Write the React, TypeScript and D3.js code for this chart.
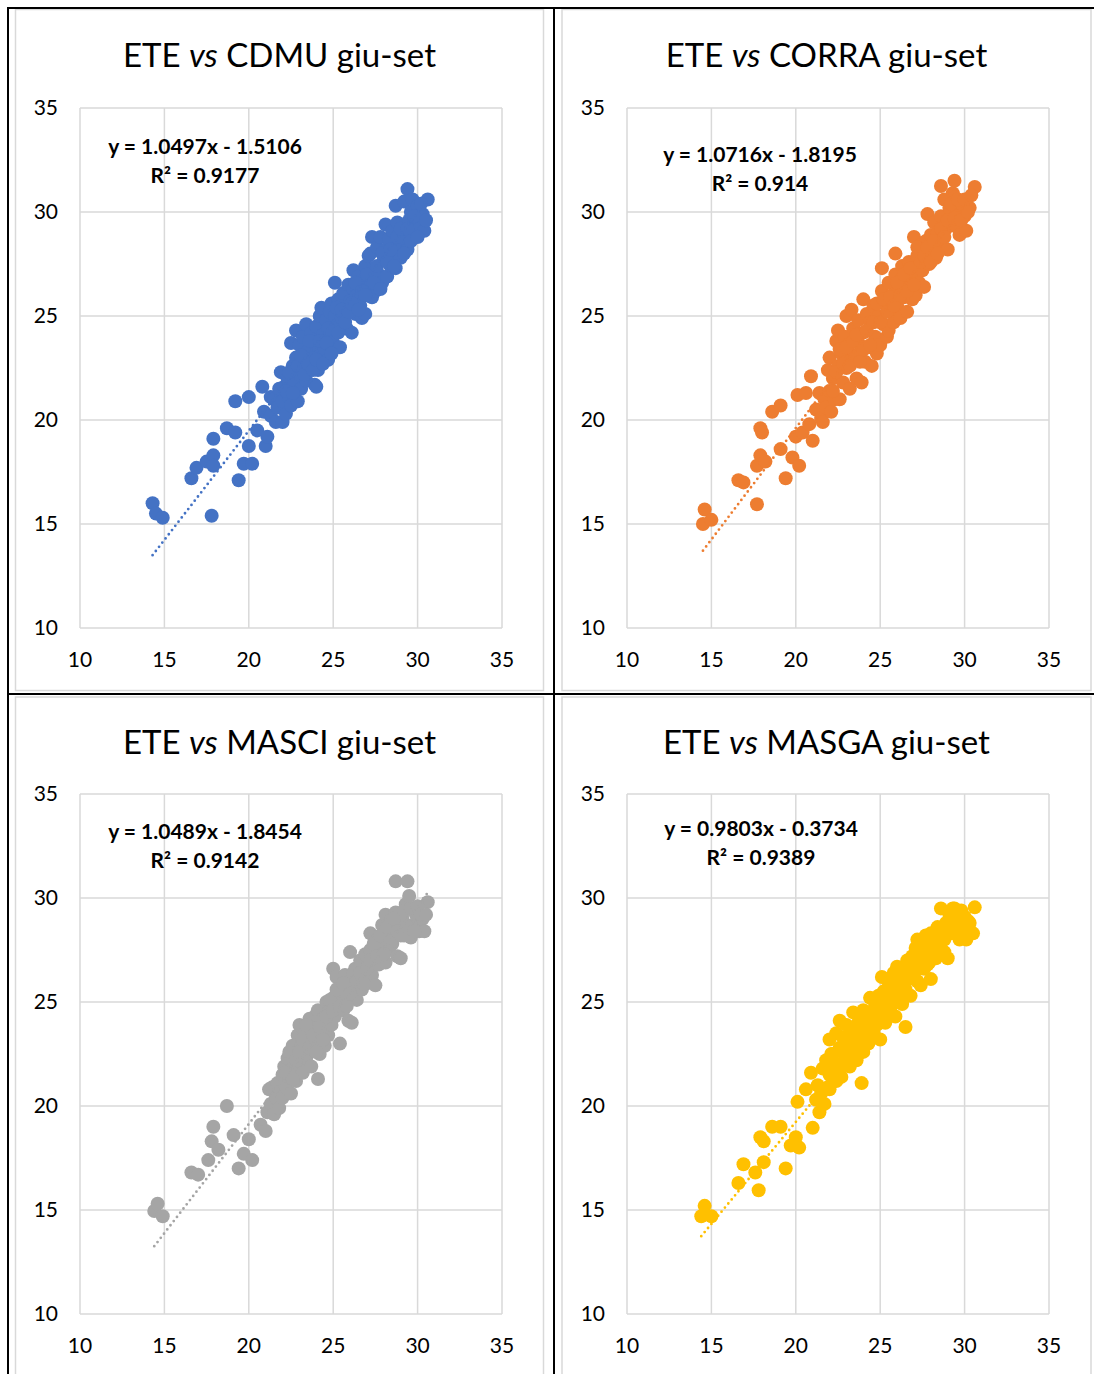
import React from "react";
import * as d3 from "d3";

// ETE (x) against each model (y), giu-set
const axisTicks = [10, 15, 20, 25, 30, 35];

const titleModels = ["CDMU", "CORRA", "MASCI", "MASGA"];
const seriesColors = ["#4472C4", "#ED7D31", "#A5A5A5", "#FFC000"];
const trendSlopes = [1.0497, 1.0716, 1.0489, 0.9803];
const trendIntercepts = [-1.5106, -1.8195, -1.8454, -0.3734];
const rSquared = ["0.9177", "0.914", "0.9142", "0.9389"];

const cdmuPoints: [number, number][] = [
  [14.3, 16.0], [14.5, 15.5], [14.9, 15.3], [16.6, 17.2], [16.9, 17.7], [17.8, 15.4],
  [17.5, 18.0], [17.9, 18.3], [17.9, 19.1], [17.9, 17.8], [18.7, 19.6], [19.2, 19.4],
  [19.2, 20.9], [19.4, 17.1], [19.7, 17.9], [20.2, 17.9], [20.0, 21.1], [20.0, 18.75],
  [20.5, 19.5], [20.8, 21.6], [21.0, 18.75], [20.9, 20.4], [21.3, 21.1], [21.1, 19.2],
  [21.3, 20.2], [21.5, 21.0], [21.6, 19.9], [21.7, 20.6], [21.8, 21.5], [21.9, 22.3],
  [22.0, 19.9], [22.0, 20.9], [22.1, 21.6], [22.2, 20.3], [22.3, 22.0], [22.4, 21.1],
  [22.5, 23.7], [22.5, 20.7], [22.6, 22.6], [22.7, 21.8], [22.8, 24.3], [22.8, 23.0],
  [22.9, 20.9], [23.0, 22.2], [23.0, 23.6], [23.1, 21.5], [23.2, 24.0], [23.3, 22.8],
  [23.4, 24.6], [23.4, 21.9], [23.5, 23.3], [23.6, 22.4], [23.7, 24.2], [23.8, 23.0],
  [23.9, 21.7], [24.0, 24.5], [24.0, 23.6], [24.0, 21.6], [24.1, 22.4], [24.2, 25.0],
  [24.3, 23.2], [24.3, 25.4], [24.4, 24.1], [24.5, 23.4], [24.6, 24.8], [24.7, 22.9],
  [24.8, 25.2], [24.9, 25.6], [24.9, 24.3], [25.0, 23.7], [25.1, 26.6], [25.1, 25.0],
  [25.2, 24.5], [25.3, 25.8], [25.4, 23.5], [25.5, 24.9], [25.6, 26.1], [25.7, 25.3],
  [25.8, 24.4], [25.9, 26.5], [26.0, 25.7], [26.1, 24.2], [26.2, 27.2], [26.2, 26.3],
  [26.3, 25.1], [26.4, 26.0], [26.5, 26.9], [26.6, 25.5], [26.7, 24.9], [26.8, 26.5],
  [26.9, 27.4], [26.9, 25.1], [27.0, 26.0], [27.1, 27.9], [27.2, 26.6], [27.2, 28.0],
  [27.3, 28.8], [27.3, 25.9], [27.4, 27.3], [27.5, 26.2], [27.6, 28.3], [27.7, 27.0],
  [27.8, 28.8], [27.9, 26.6], [28.0, 27.7], [28.1, 29.4], [28.1, 28.2], [28.2, 26.9],
  [28.3, 28.7], [28.4, 27.4], [28.5, 29.1], [28.6, 28.0], [28.7, 30.3], [28.7, 27.3],
  [28.8, 29.5], [28.9, 28.4], [29.0, 27.8], [29.1, 29.0], [29.2, 30.5], [29.3, 28.6],
  [29.4, 31.1], [29.4, 28.2], [29.5, 29.6], [29.6, 30.0], [29.7, 30.6], [29.8, 28.9],
  [29.9, 29.4], [30.0, 30.3], [30.1, 29.2], [30.3, 29.9], [30.4, 29.1], [30.6, 30.6],
  [22.2, 21.4], [22.4, 22.3], [22.6, 21.3], [22.9, 22.6], [23.1, 23.1], [23.3, 22.2],
  [23.5, 22.7], [23.6, 23.8], [23.8, 22.4], [24.0, 22.9], [24.2, 23.8], [24.4, 22.7],
  [24.6, 23.7], [24.7, 24.4], [24.9, 23.2], [25.2, 25.4], [25.3, 24.2], [25.5, 25.3],
  [25.7, 24.7], [25.9, 25.2], [26.1, 25.6], [26.3, 26.6], [26.5, 25.3], [26.7, 26.2],
  [26.9, 26.0], [27.0, 27.0], [27.4, 26.6], [27.6, 27.4], [27.8, 26.3], [27.9, 28.0],
  [28.2, 27.6], [28.4, 28.2], [28.6, 27.4], [28.8, 28.8], [29.0, 29.2], [29.2, 28.0],
  [29.4, 29.2], [29.6, 28.6], [29.8, 29.8], [30.0, 28.8], [30.2, 30.4], [30.5, 29.6],
];

const corraPoints: [number, number][] = [
  [14.5, 15.0], [14.6, 15.7], [15.0, 15.2], [16.6, 17.1], [16.9, 17.0], [17.7, 15.95],
  [17.7, 17.8], [17.9, 18.3], [17.9, 19.6], [18.0, 19.4], [18.2, 18.0], [18.6, 20.4],
  [19.1, 20.7], [19.4, 17.2], [19.8, 18.2], [20.2, 17.8], [19.1, 18.6], [20.1, 21.2],
  [20.6, 21.3], [20.9, 22.1], [20.0, 19.2], [20.4, 19.4], [21.0, 19.0], [20.8, 19.8],
  [21.2, 20.5], [21.4, 21.3], [21.5, 20.1], [21.6, 19.9], [21.7, 21.0], [21.8, 20.6],
  [21.9, 22.4], [22.0, 23.0], [22.0, 21.4], [22.1, 20.4], [22.2, 22.0], [22.3, 21.0],
  [22.4, 23.8], [22.5, 24.3], [22.5, 22.6], [22.6, 21.0], [22.7, 23.2], [22.8, 21.8],
  [22.9, 24.0], [23.0, 22.5], [23.0, 25.0], [23.1, 23.6], [23.2, 21.5], [23.3, 25.3],
  [23.3, 22.9], [23.4, 24.4], [23.5, 23.1], [23.6, 22.0], [23.7, 24.8], [23.8, 23.6],
  [23.9, 21.8], [24.0, 25.8], [24.0, 24.2], [24.1, 22.8], [24.2, 25.1], [24.3, 23.5],
  [24.4, 24.7], [24.5, 22.6], [24.6, 25.5], [24.7, 24.0], [24.8, 23.2], [24.9, 25.0],
  [25.0, 23.6], [25.1, 27.3], [25.1, 26.2], [25.2, 24.6], [25.3, 25.6], [25.4, 24.0],
  [25.5, 24.3], [25.5, 26.6], [25.6, 25.2], [25.7, 26.0], [25.8, 24.7], [25.9, 28.0],
  [25.9, 27.0], [26.0, 25.5], [26.1, 26.3], [26.2, 24.9], [26.3, 27.4], [26.4, 25.9],
  [26.5, 26.8], [26.6, 25.2], [26.7, 27.6], [26.8, 26.4], [26.9, 25.8], [27.0, 28.8],
  [27.0, 27.1], [27.1, 26.0], [27.2, 27.9], [27.3, 26.6], [27.4, 28.4], [27.5, 27.2],
  [27.6, 26.4], [27.7, 28.6], [27.8, 29.9], [27.8, 27.6], [27.9, 27.5], [28.0, 28.9],
  [28.1, 28.1], [28.2, 29.5], [28.3, 27.8], [28.4, 29.0], [28.5, 28.4], [28.6, 31.25],
  [28.6, 29.8], [28.7, 28.7], [28.8, 30.6], [28.9, 29.2], [29.0, 28.2], [29.1, 30.2],
  [29.2, 29.6], [29.3, 30.9], [29.4, 31.5], [29.4, 30.7], [29.5, 29.3], [29.6, 30.0],
  [29.7, 28.9], [29.8, 30.4], [30.0, 29.8], [30.1, 29.1], [30.3, 30.2], [30.6, 31.2],
  [22.2, 21.4], [22.4, 22.3], [22.6, 23.4], [22.8, 22.7], [23.0, 23.5], [23.2, 22.6],
  [23.4, 23.8], [23.6, 24.1], [23.8, 22.8], [24.0, 23.4], [24.2, 24.3], [24.4, 23.6],
  [24.6, 24.7], [24.8, 25.6], [25.0, 24.7], [25.2, 25.8], [25.4, 25.2], [25.6, 25.9],
  [25.8, 25.5], [26.0, 26.6], [26.2, 26.0], [26.4, 27.0], [26.6, 26.2], [26.8, 27.3],
  [27.0, 26.5], [27.2, 28.3], [27.4, 27.6], [27.6, 27.9], [27.8, 28.3], [28.0, 27.6],
  [28.2, 28.6], [28.4, 28.0], [28.6, 29.2], [28.8, 28.8], [29.0, 29.6], [29.2, 30.4],
  [29.4, 29.7], [29.6, 30.6], [29.8, 29.6], [30.0, 30.6], [30.2, 30.0], [30.4, 30.8],
];

const masciPoints: [number, number][] = [
  [14.4, 14.95], [14.6, 15.3], [14.9, 14.7], [16.6, 16.8], [17.0, 16.7], [17.6, 17.4],
  [17.8, 18.3], [17.9, 19.0], [18.2, 17.9], [18.7, 20.0], [19.1, 18.6], [19.4, 17.0],
  [19.7, 17.7], [20.2, 17.4], [20.0, 18.4], [20.7, 19.1], [21.0, 18.8], [21.2, 20.8],
  [21.1, 19.7], [21.3, 20.1], [21.4, 20.9], [21.5, 19.6], [21.6, 20.4], [21.7, 21.1],
  [21.8, 19.9], [21.9, 20.7], [22.0, 21.5], [22.0, 20.4], [22.1, 21.9], [22.2, 20.9],
  [22.3, 22.3], [22.4, 21.4], [22.5, 20.6], [22.6, 22.9], [22.6, 21.8], [22.7, 22.5],
  [22.8, 21.2], [22.9, 23.4], [23.0, 23.9], [23.0, 22.0], [23.1, 22.8], [23.2, 21.6],
  [23.3, 23.5], [23.4, 22.3], [23.5, 23.0], [23.6, 24.2], [23.7, 21.9], [23.8, 22.7],
  [23.9, 23.8], [24.0, 24.4], [24.0, 23.1], [24.1, 21.3], [24.1, 24.6], [24.2, 22.5],
  [24.3, 23.6], [24.4, 24.2], [24.5, 22.9], [24.6, 25.0], [24.7, 23.4], [24.8, 24.6],
  [24.9, 23.9], [25.0, 26.6], [25.0, 25.2], [25.1, 24.3], [25.2, 26.2], [25.3, 25.0],
  [25.4, 23.0], [25.5, 25.6], [25.6, 24.6], [25.7, 26.3], [25.8, 25.3], [25.9, 24.1],
  [26.0, 27.4], [26.0, 26.0], [26.1, 24.0], [26.2, 25.5], [26.3, 26.6], [26.4, 25.1],
  [26.5, 26.0], [26.6, 27.0], [26.7, 25.6], [26.8, 26.4], [26.9, 27.3], [27.0, 25.9],
  [27.1, 26.8], [27.2, 28.3], [27.2, 27.5], [27.3, 26.3], [27.4, 27.0], [27.5, 25.8],
  [27.6, 28.0], [27.7, 26.8], [27.8, 27.4], [27.9, 28.7], [28.0, 27.9], [28.1, 29.2],
  [28.1, 26.9], [28.2, 28.2], [28.3, 27.5], [28.4, 28.9], [28.5, 27.8], [28.6, 28.4],
  [28.7, 30.8], [28.7, 29.3], [28.8, 27.2], [28.9, 28.6], [29.0, 27.1], [29.1, 29.0],
  [29.2, 28.2], [29.3, 29.7], [29.4, 30.8], [29.5, 30.1], [29.6, 28.1], [29.7, 28.7],
  [29.9, 29.2], [30.0, 28.5], [30.1, 28.4], [30.3, 29.0], [30.4, 28.4], [30.6, 29.8],
  [22.2, 21.6], [22.4, 22.6], [22.6, 21.3], [22.8, 22.2], [23.0, 22.6], [23.2, 23.2],
  [23.4, 23.9], [23.6, 22.8], [23.8, 23.4], [24.0, 22.6], [24.2, 23.8], [24.4, 23.2],
  [24.6, 24.3], [24.8, 25.1], [25.0, 24.6], [25.2, 25.6], [25.4, 24.8], [25.6, 25.9],
  [25.8, 24.8], [26.0, 25.4], [26.2, 26.4], [26.4, 26.0], [26.6, 26.4], [26.8, 25.9],
  [27.0, 26.6], [27.2, 27.0], [27.4, 27.8], [27.6, 27.2], [27.8, 28.2], [28.0, 27.3],
  [28.2, 28.6], [28.4, 27.9], [28.6, 29.0], [28.8, 28.4], [29.0, 28.2], [29.2, 29.4],
  [29.4, 28.6], [29.6, 29.5], [29.8, 28.4], [30.0, 29.6], [30.2, 29.2], [30.5, 29.2],
];

const masgaPoints: [number, number][] = [
  [14.4, 14.7], [14.6, 15.2], [15.0, 14.7], [16.6, 16.3], [16.9, 17.2], [17.6, 16.8],
  [17.8, 15.95], [17.9, 18.5], [18.1, 18.3], [18.1, 17.3], [18.6, 19.0], [19.1, 19.0],
  [19.4, 17.0], [19.7, 18.1], [20.0, 18.5], [20.2, 18.0], [20.1, 20.2], [20.6, 20.8],
  [20.9, 21.6], [21.0, 18.95], [21.2, 20.3], [21.3, 21.0], [21.4, 19.7], [21.5, 20.6],
  [21.6, 21.8], [21.7, 20.1], [21.8, 22.2], [21.9, 20.9], [22.0, 23.2], [22.0, 21.5],
  [22.0, 20.8], [22.1, 22.5], [22.2, 21.2], [22.3, 22.0], [22.4, 23.5], [22.5, 21.7],
  [22.6, 24.1], [22.6, 22.8], [22.7, 21.4], [22.8, 23.3], [22.9, 22.2], [23.0, 23.9],
  [23.1, 22.7], [23.2, 21.9], [23.3, 23.6], [23.4, 24.5], [23.5, 22.9], [23.6, 22.2],
  [23.7, 24.0], [23.8, 23.2], [23.9, 21.1], [24.0, 24.6], [24.0, 22.6], [24.1, 23.6],
  [24.2, 24.1], [24.3, 23.0], [24.4, 25.2], [24.5, 24.4], [24.6, 23.5], [24.7, 24.8],
  [24.8, 23.9], [24.9, 25.3], [25.0, 23.2], [25.1, 26.2], [25.1, 24.6], [25.2, 25.5],
  [25.3, 24.0], [25.4, 25.0], [25.5, 26.0], [25.6, 24.7], [25.7, 25.4], [25.8, 26.4],
  [25.9, 24.3], [26.0, 26.7], [26.0, 25.8], [26.1, 25.1], [26.2, 26.2], [26.3, 24.9],
  [26.4, 26.6], [26.5, 23.8], [26.5, 25.6], [26.6, 27.0], [26.7, 26.1], [26.8, 25.3],
  [26.9, 27.2], [27.0, 26.4], [27.1, 27.6], [27.2, 28.0], [27.2, 26.0], [27.3, 27.0],
  [27.4, 25.8], [27.5, 27.7], [27.6, 26.6], [27.7, 28.2], [27.8, 27.2], [27.9, 26.9],
  [28.0, 28.3], [28.0, 26.1], [28.1, 27.5], [28.2, 28.0], [28.3, 27.1], [28.4, 28.6],
  [28.5, 27.8], [28.6, 29.5], [28.7, 28.2], [28.8, 27.4], [28.9, 28.8], [29.0, 27.1],
  [29.1, 29.2], [29.2, 28.3], [29.3, 29.5], [29.4, 29.5], [29.5, 28.7], [29.6, 29.1],
  [29.7, 28.0], [29.9, 29.0], [30.0, 28.3], [30.1, 28.0], [30.2, 28.5], [30.3, 28.8],
  [30.6, 29.55],
  [22.2, 22.5], [22.4, 21.2], [22.6, 22.0], [22.8, 22.6], [23.0, 22.4], [23.2, 23.2],
  [23.4, 22.6], [23.6, 23.4], [23.8, 24.1], [24.0, 23.3], [24.2, 23.8], [24.4, 24.0],
  [24.6, 24.5], [24.8, 24.3], [25.0, 24.8], [25.2, 24.4], [25.4, 25.6], [25.6, 25.3],
  [25.8, 25.0], [26.0, 25.4], [26.2, 25.7], [26.4, 26.0], [26.6, 26.3], [26.8, 26.6],
  [27.0, 27.0], [27.2, 26.6], [27.4, 27.3], [27.6, 27.8], [27.8, 26.8], [28.0, 27.5],
  [28.2, 27.3], [28.4, 27.7], [28.6, 28.5], [28.8, 28.0], [29.0, 28.6], [29.2, 29.0],
  [29.4, 28.4], [29.6, 28.6], [29.8, 29.4], [30.0, 29.1], [30.2, 28.9], [30.5, 28.3],
];

const seriesPoints = [cdmuPoints, corraPoints, masciPoints, masgaPoints];

// Panel placement: column (left, right) and row (top, bottom)
const colFrameX = [15.5, 562];
const colFrameW = [528, 529];
const rowFrameY = [9.5, 697];
const rowFrameH = [681, 700];
const colPlotX = [80, 627];
const rowPlotY = [108, 794];
const plotW = 422;
const plotH = 520;
const eqOffset = [
  [205, 46],
  [760, 54],
  [205, 45],
  [761, 42],
];

const FONT = "Lato, 'Open Sans', sans-serif";

function Panel({ idx }: { idx: number }) {
  const col = idx % 2;
  const row = Math.floor(idx / 2);
  const left = colPlotX[col];
  const top = rowPlotY[row];
  const x = d3.scaleLinear().domain([10, 35]).range([left, left + plotW]);
  const y = d3.scaleLinear().domain([10, 35]).range([top + plotH, top]);
  const pts = seriesPoints[idx];
  const color = seriesColors[idx];
  const slope = trendSlopes[idx];
  const intercept = trendIntercepts[idx];
  const [xmin, xmax] = d3.extent(pts, (d) => d[0]) as [number, number];
  const trend = d3
    .line<number>()
    .x((v) => x(v))
    .y((v) => y(slope * v + intercept))([xmin, xmax]);
  const frameX = colFrameX[col];
  const frameW = colFrameW[col];
  const titleX = frameX + frameW / 2;
  const titleY = rowFrameY[row] + 57;
  const eqX = eqOffset[idx][0];
  const eqY = top + eqOffset[idx][1];
  const sign = intercept < 0 ? "-" : "+";
  const eqText = `y = ${slope.toFixed(4)}x ${sign} ${Math.abs(intercept).toFixed(4)}`;

  return (
    <g>
      <rect
        x={frameX}
        y={rowFrameY[row]}
        width={frameW}
        height={rowFrameH[row]}
        fill="#fff"
        stroke="#d9d9d9"
        strokeWidth={1.5}
      />
      <text
        x={titleX}
        y={titleY}
        textAnchor="middle"
        fontFamily={FONT}
        fontSize={33}
        fill="#000"
      >
        ETE <tspan fontStyle="italic">vs</tspan> {titleModels[idx]} giu-set
      </text>
      {axisTicks.map((t) => (
        <line
          key={"gx" + t}
          x1={x(t)}
          x2={x(t)}
          y1={top}
          y2={top + plotH}
          stroke="#d9d9d9"
          strokeWidth={1.5}
        />
      ))}
      {axisTicks.map((t) => (
        <line
          key={"gy" + t}
          x1={left}
          x2={left + plotW}
          y1={y(t)}
          y2={y(t)}
          stroke="#d9d9d9"
          strokeWidth={1.5}
        />
      ))}
      {axisTicks.map((t) => (
        <text
          key={"ly" + t}
          x={left - 22}
          y={y(t)}
          dy="0.35em"
          textAnchor="end"
          fontFamily={FONT}
          fontSize={21}
          fill="#000"
        >
          {t}
        </text>
      ))}
      {axisTicks.map((t) => (
        <text
          key={"lx" + t}
          x={x(t)}
          y={top + plotH + 32}
          dy="0.35em"
          textAnchor="middle"
          fontFamily={FONT}
          fontSize={21}
          fill="#000"
        >
          {t}
        </text>
      ))}
      {pts.map((d, i) => (
        <circle key={i} cx={x(d[0])} cy={y(d[1])} r={7} fill={color} />
      ))}
      <path
        d={trend ?? ""}
        fill="none"
        stroke={color}
        strokeWidth={2.8}
        strokeLinecap="round"
        strokeDasharray="0 5.3"
      />
      <text
        x={eqX}
        y={eqY}
        textAnchor="middle"
        fontFamily={FONT}
        fontWeight="bold"
        fontSize={21}
        fill="#000"
      >
        {eqText}
      </text>
      <text
        x={eqX}
        y={eqY + 29}
        textAnchor="middle"
        fontFamily={FONT}
        fontWeight="bold"
        fontSize={21}
        fill="#000"
      >
        R² = {rSquared[idx]}
      </text>
    </g>
  );
}

export default function App() {
  return (
    <svg
      width={1094}
      height={1374}
      style={{ position: "absolute", left: 0, top: 0, background: "#fff" }}
    >
      {[0, 1, 2, 3].map((i) => (
        <Panel key={i} idx={i} />
      ))}
      <rect x={7} y={7} width={1087} height={2} fill="#000" />
      <rect x={7} y={7} width={2} height={1367} fill="#000" />
      <rect x={553} y={7} width={2} height={1367} fill="#000" />
      <rect x={7} y={693} width={1087} height={2} fill="#000" />
    </svg>
  );
}
